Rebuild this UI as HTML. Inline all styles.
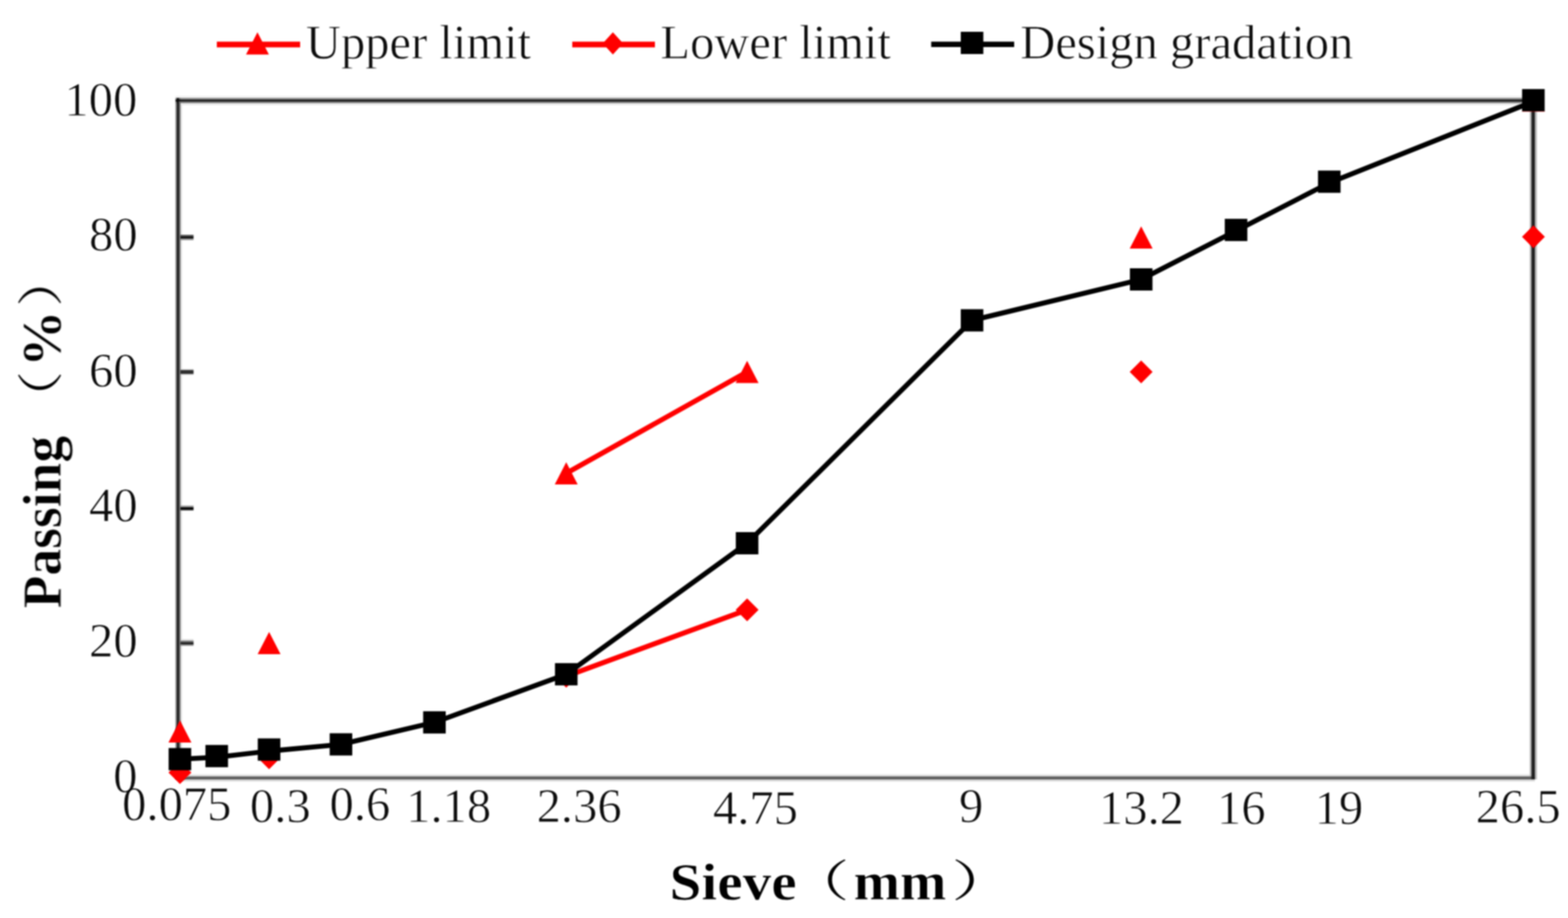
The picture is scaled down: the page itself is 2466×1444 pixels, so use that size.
<!DOCTYPE html>
<html lang="en"><head><meta charset="utf-8"><title>Gradation curve</title>
<style>
html,body{margin:0;padding:0;background:#fff;}
body{width:2466px;height:1444px;overflow:hidden;}
svg{display:block;}
text{font-family:"Liberation Serif","Noto Serif CJK SC",serif;fill:#0c0c0c;stroke:#fff;stroke-width:0.9px;stroke-linejoin:round;mix-blend-mode:multiply;}
text.b{fill:#000;stroke-width:0.8px;}
text.p{fill:#000;stroke:none;}
#frame rect{mix-blend-mode:darken;}
.t{font-size:76.4px;}
.b{font-size:84.6px;font-weight:bold;}
.p{font-family:"Noto Serif CJK SC","Liberation Serif",serif;font-weight:normal;font-size:73.0px;}
</style></head><body>
<svg xmlns="http://www.w3.org/2000/svg" width="2466" height="1444" viewBox="0 0 2466 1444">
<defs><filter id="soft" color-interpolation-filters="sRGB" filterUnits="userSpaceOnUse" x="0" y="0" width="2466" height="1444"><feGaussianBlur stdDeviation="1.1"/></filter><filter id="soft2" color-interpolation-filters="sRGB" filterUnits="userSpaceOnUse" x="0" y="0" width="2466" height="1444"><feGaussianBlur stdDeviation="0.9"/></filter></defs>
<rect x="0" y="0" width="2466" height="1444" fill="#fff"/>
<g id="frame" filter="url(#soft2)">
<rect x="281.00" y="1217.97" width="2132.92" height="2.99" fill="#e6e6e6"/><rect x="281.00" y="1220.96" width="2132.92" height="2.00" fill="#737373"/><rect x="281.00" y="1222.96" width="2132.92" height="2.99" fill="#575757"/><rect x="281.00" y="1225.95" width="2132.92" height="3.25" fill="#d9d9d9"/>
<rect x="2405.69" y="153.97" width="2.74" height="1071.98" fill="#bfbfbf"/><rect x="2408.43" y="153.97" width="5.49" height="1071.98" fill="#1f1f1f"/><rect x="2413.92" y="153.97" width="3.24" height="1071.98" fill="#bababa"/>
<rect x="275.93" y="150.70" width="2137.99" height="3.27" fill="#f2f2f2"/><rect x="275.93" y="153.97" width="2137.99" height="2.99" fill="#878787"/><rect x="275.93" y="156.96" width="2137.99" height="2.24" fill="#000000"/><rect x="275.93" y="159.20" width="2137.99" height="2.75" fill="#6b6b6b"/><rect x="275.93" y="161.95" width="2137.99" height="3.25" fill="#e6e6e6"/>
<rect x="275.93" y="153.97" width="2.49" height="1071.98" fill="#808080"/><rect x="278.42" y="153.97" width="2.49" height="1071.98" fill="#000000"/><rect x="280.91" y="153.97" width="2.91" height="1071.98" fill="#616161"/><rect x="283.82" y="153.97" width="2.78" height="1071.98" fill="#e6e6e6"/>
<rect x="283.80" y="369.39" width="20.60" height="2.77" fill="#4d4d4d"/><rect x="283.80" y="372.16" width="20.60" height="2.77" fill="#000000"/><rect x="283.80" y="374.93" width="20.60" height="2.77" fill="#8c8c8c"/>
<rect x="283.80" y="580.50" width="20.60" height="1.67" fill="#cccccc"/><rect x="283.80" y="582.17" width="20.60" height="5.82" fill="#2e2e2e"/><rect x="283.80" y="587.99" width="20.60" height="1.66" fill="#bfbfbf"/>
<rect x="283.80" y="795.24" width="20.60" height="2.76" fill="#999999"/><rect x="283.80" y="798.00" width="20.60" height="3.05" fill="#000000"/><rect x="283.80" y="801.05" width="20.60" height="1.94" fill="#404040"/>
<rect x="283.80" y="1005.50" width="20.60" height="2.50" fill="#d9d9d9"/><rect x="283.80" y="1008.00" width="20.60" height="3.05" fill="#666666"/><rect x="283.80" y="1011.05" width="20.60" height="2.22" fill="#000000"/><rect x="283.80" y="1013.27" width="20.60" height="2.49" fill="#808080"/>
</g>
<g id="chart" filter="url(#soft)">
<g id="lower">
<line x1="890.5" y1="1063.7" x2="1175.0" y2="959.2" stroke="#ff0000" stroke-width="8.0"/>
<polygon points="283.0,1197.2 301.0,1215.2 283.0,1233.2 265.0,1215.2" fill="#ff0000"/>
<polygon points="423.2,1174.0 441.2,1192.0 423.2,1210.0 405.2,1192.0" fill="#ff0000"/>
<polygon points="890.5,1045.7 908.5,1063.7 890.5,1081.7 872.5,1063.7" fill="#ff0000"/>
<polygon points="1175.0,941.2 1193.0,959.2 1175.0,977.2 1157.0,959.2" fill="#ff0000"/>
<polygon points="1794.7,567.0 1812.7,585.0 1794.7,603.0 1776.7,585.0" fill="#ff0000"/>
<polygon points="2411.6,354.5 2429.6,372.5 2411.6,390.5 2393.6,372.5" fill="#ff0000"/>
</g>
<g id="upper">
<line x1="890.5" y1="744.6" x2="1175.0" y2="585.0" stroke="#ff0000" stroke-width="8.0"/>
<polygon points="283.0,1133.0 301.0,1168.0 265.0,1168.0" fill="#ff0000"/>
<polygon points="423.2,993.9 441.2,1028.9 405.2,1028.9" fill="#ff0000"/>
<polygon points="890.5,727.1 908.5,762.1 872.5,762.1" fill="#ff0000"/>
<polygon points="1175.0,567.5 1193.0,602.5 1157.0,602.5" fill="#ff0000"/>
<polygon points="1794.7,356.0 1812.7,391.0 1776.7,391.0" fill="#ff0000"/>
<polygon points="2411.6,140.5 2429.6,175.5 2393.6,175.5" fill="#ff0000"/>
</g>
<g id="design">
<polyline points="283.0,1194.1 340.8,1191.1 423.2,1181.5 536.2,1170.9 683.2,1136.3 890.5,1060.6 1175.0,854.5 1528.7,503.9 1794.7,439.5 1944.0,363.0 2090.6,287.6 2411.6,159.6" fill="none" stroke="#000" stroke-width="7.8" stroke-linejoin="round"/>
<rect x="265.2" y="1176.6" width="35.5" height="35.0" fill="#000"/>
<rect x="323.1" y="1171.8" width="35.5" height="35.0" fill="#000"/>
<rect x="405.4" y="1161.5" width="35.5" height="35.0" fill="#000"/>
<rect x="518.5" y="1153.4" width="35.5" height="35.0" fill="#000"/>
<rect x="665.5" y="1118.8" width="35.5" height="35.0" fill="#000"/>
<rect x="872.8" y="1043.1" width="35.5" height="35.0" fill="#000"/>
<rect x="1157.2" y="837.0" width="35.5" height="35.0" fill="#000"/>
<rect x="1511.0" y="486.4" width="35.5" height="35.0" fill="#000"/>
<rect x="1777.0" y="422.0" width="35.5" height="35.0" fill="#000"/>
<rect x="1926.2" y="344.2" width="35.5" height="35.0" fill="#000"/>
<rect x="2072.8" y="268.3" width="35.5" height="35.0" fill="#000"/>
<rect x="2393.8" y="140.1" width="35.5" height="35.0" fill="#000"/>
</g>
<g id="legend">
<line x1="341" y1="70" x2="472" y2="70" stroke="#ff0000" stroke-width="8.8"/>
<polygon points="404.9,50.7 422.9,85.7 386.9,85.7" fill="#ff0000"/>
<line x1="900" y1="70" x2="1030" y2="70" stroke="#ff0000" stroke-width="8.8"/>
<polygon points="963.9,50.8 979.9,68.3 963.9,85.8 947.9,68.3" fill="#ff0000"/>
<line x1="1464.5" y1="69.7" x2="1595" y2="69.7" stroke="#000" stroke-width="8.6"/>
<rect x="1511.0" y="50.0" width="35.5" height="35.0" fill="#000"/>
</g>
<g id="texts">
<text id="lg1" class="t" transform="translate(481,92.3)">Upper limit</text>
<text id="lg2" class="t" transform="translate(1038.5,92.3)">Lower limit</text>
<text id="lg3" class="t" transform="translate(1604.5,92.3)">Design gradation</text>
<text id="y100" class="t" transform="translate(101.3,181.7)">100</text>
<text id="y80" class="t" transform="translate(140,394)">80</text>
<text id="y60" class="t" transform="translate(140,608.1)">60</text>
<text id="y40" class="t" transform="translate(140,820.1)">40</text>
<text id="y20" class="t" transform="translate(140,1032.5)">20</text>
<text id="y0" class="t" transform="translate(178,1246.1)">0</text>
<text id="x1" class="t" transform="translate(192.1,1290.2)">0.075</text>
<text id="x2" class="t" transform="translate(393.1,1293.3)">0.3</text>
<text id="x3" class="t" transform="translate(518.3,1290.3)">0.6</text>
<text id="x4" class="t" transform="translate(638.8,1292.8)">1.18</text>
<text id="x5" class="t" transform="translate(843.9,1293.1)">2.36</text>
<text id="x6" class="t" transform="translate(1121.3,1295.6)">4.75</text>
<text id="x7" class="t" transform="translate(1508.3,1292.6)">9</text>
<text id="x8" class="t" transform="translate(1728.3,1295.8)">13.2</text>
<text id="x9" class="t" transform="translate(1914.1,1295.8)">16</text>
<text id="x10" class="t" transform="translate(2067.6,1295.5)">19</text>
<text id="x11" class="t" transform="translate(2320.8,1293.6)">26.5</text>
<text id="xt1" class="b" transform="translate(1053.08,1415.21) scale(1.063,0.987)">Sieve</text>
<text id="xt2" class="p" transform="translate(1239.38,1409.55) scale(1.321,0.941)">（</text>
<text id="xt3" class="b" transform="translate(1342.52,1415) scale(1.036,0.995)">mm</text>
<text id="xt4" class="p" transform="translate(1496.01,1409.55) scale(1.393,0.941)">）</text>
<text id="yt1" class="b" transform="translate(95.62,956.89) rotate(-90) scale(0.995,1.016)">Passing</text>
<text id="yt2" class="p" transform="translate(88.86,669.05) rotate(-90) scale(1.171,0.988)">（</text>
<text id="yt3" class="b" transform="translate(94.69,577.25) rotate(-90) scale(1.05,1.029)">%</text>
<text id="yt4" class="p" transform="translate(88.86,482.45) rotate(-90) scale(1.171,0.988)">）</text>
</g>
</g>
</svg>
</body></html>
